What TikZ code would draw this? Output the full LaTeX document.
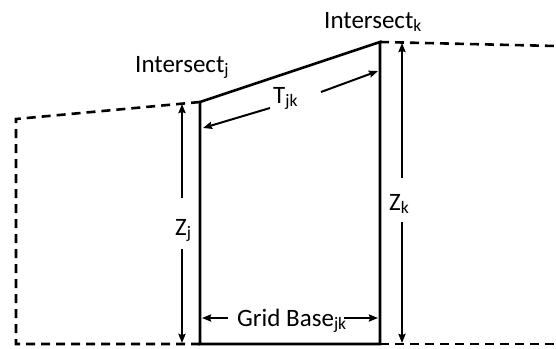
\documentclass[tikz,border=0pt]{standalone}
\usepackage{fontspec}
\setmainfont{Carlito}
\usetikzlibrary{arrows.meta}
\begin{document}
\begin{tikzpicture}[x=1pt,y=-1pt,
  solidline/.style={line width=2.6pt, line cap=rect, line join=miter},
  dashline/.style={line width=2.6pt, dash pattern=on 9pt off 6pt},
  dimarrow/.style={line width=2pt, -{Stealth[length=9pt,width=7pt,inset=1pt]}},
  lbl/.style={inner sep=0pt, anchor=base west, font=\fontsize{25}{30}\selectfont}]
\useasboundingbox (0,0) rectangle (556,348);
% corners
\coordinate (A) at (200,102);
\coordinate (B) at (380,42);
\coordinate (C) at (380,344);
\coordinate (D) at (200,344);
\coordinate (L1) at (16,119);
\coordinate (L2) at (16,344);
\coordinate (R1) at (556,46);
\coordinate (R2) at (556,344);
% dashed neighbours
\draw[dashline] (A) -- (L1) -- (L2) -- (D);
\draw[dashline] (B) -- (R1);
\draw[dashline] (C) -- (R2);
% solid trapezoid
\draw[solidline] (A) -- (B) -- (C) -- (D) -- cycle;
% labels
\node[lbl] (ij) at (135,72) {Intersect\textsubscript{j}};
\node[lbl] (ik) at (324,28) {Intersect\textsubscript{k}};
\node[lbl] (tjk) at (273,103) {T\textsubscript{jk}};
\node[lbl] (zj) at (175,235) {Z\textsubscript{j}};
\node[lbl] (zk) at (389,210) {Z\textsubscript{k}};
\node[lbl] (gb) at (237,326) {Grid Base\textsubscript{jk}};
% arrow coordinates
\coordinate (t1) at (270,108);
\coordinate (t2) at (203,128);
\coordinate (t3) at (321,92);
\coordinate (t4) at (378,71);
\coordinate (zj1) at (182,198);
\coordinate (zj2) at (182,104);
\coordinate (zj3) at (182,249);
\coordinate (zj4) at (182,343);
\coordinate (zk1) at (402,178);
\coordinate (zk2) at (402,43);
\coordinate (zk3) at (402,222);
\coordinate (zk4) at (402,343);
\coordinate (g1) at (228,318);
\coordinate (g2) at (202,318);
\coordinate (g3) at (344,318);
\coordinate (g4) at (378,318);
\draw[dimarrow] (t1) -- (t2);
\draw[dimarrow] (t3) -- (t4);
\draw[dimarrow] (zj1) -- (zj2);
\draw[dimarrow] (zj3) -- (zj4);
\draw[dimarrow] (zk1) -- (zk2);
\draw[dimarrow] (zk3) -- (zk4);
\draw[dimarrow] (g1) -- (g2);
\draw[dimarrow] (g3) -- (g4);
\end{tikzpicture}
\end{document}
